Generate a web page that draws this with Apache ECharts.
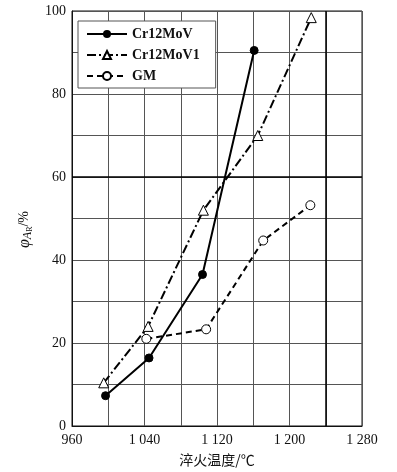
<!DOCTYPE html>
<html>
<head>
<meta charset="utf-8">
<script src="https://cdn.jsdelivr.net/npm/echarts@6/dist/echarts.min.js"></script>
<style>
  html, body { margin: 0; padding: 0; background: #fff; }
  #chart { width: 397px; height: 472px; }
</style>
</head>
<body>
<div id="chart"></div>
<script>
// 淬火温度 (x) / 残余奥氏体 (y) 读图数据
const cr12MoV = [[997, 7.3], [1045, 16.4], [1104, 36.5], [1161, 90.5]]
const cr12MoV1 = [[995, 10.4], [1044, 24.0], [1105, 52.0], [1165, 70.0], [1224, 98.4]]
const gm = [[1042, 21.0], [1108, 23.3], [1171, 44.7], [1223, 53.2]]
const seriesNames = ['Cr12MoV', 'Cr12MoV1', 'GM']
const xMin = 960, xMax = 1280, xStep = 40, xLabelStep = 80
const yMin = 0, yMax = 100, yStep = 10, yLabelStep = 20
const refX = 1240, refY = 60

const serif = '"Liberation Serif", "DejaVu Serif", serif'
const chart = echarts.init(document.getElementById('chart'))

const fmtX = (v) => {
  if ((v - xMin) % xLabelStep !== 0) return ''
  const s = String(v)
  return s.length > 3 ? s.slice(0, s.length - 3) + ' ' + s.slice(-3) : s
}

const option = {
  animation: false,
  grid: {
    left: 72, right: 35, top: 11, bottom: 40,
    show: true, borderColor: '#111', borderWidth: 1
  },
  legend: {
    orient: 'vertical',
    left: 78, top: 21,
    padding: [6, 16, 5, 8],
    itemGap: 7,
    itemWidth: 40, itemHeight: 10,
    backgroundColor: '#fff',
    borderColor: '#555', borderWidth: 1,
    textStyle: { fontFamily: serif, fontSize: 14, fontWeight: 'bold', color: '#111' },
    data: seriesNames
  },
  xAxis: {
    type: 'value',
    min: xMin, max: xMax, interval: xStep,
    name: '淬火温度/℃',
    nameLocation: 'middle',
    nameGap: 27,
    nameTextStyle: { fontFamily: '"Noto Sans CJK SC", sans-serif', fontSize: 14, color: '#111' },
    axisLine: { show: true, lineStyle: { color: '#111', width: 1 } },
    axisTick: { show: false },
    axisLabel: { formatter: fmtX, fontFamily: serif, fontSize: 14, color: '#111', margin: 7, showMaxLabel: true },
    splitLine: { show: true, lineStyle: { color: '#555', width: 1 } }
  },
  yAxis: {
    type: 'value',
    min: yMin, max: yMax, interval: yStep,
    name: '{a|φ}{b|A}{c|R}{d|/%}',
    nameLocation: 'middle',
    nameRotate: 90,
    nameGap: 30,
    nameTextStyle: {
      color: '#111',
      padding: [0, 22, 0, 0],
      rich: {
        a: { fontFamily: serif, fontStyle: 'italic', fontSize: 16, color: '#111' },
        b: { fontFamily: serif, fontStyle: 'italic', fontSize: 12, color: '#111', verticalAlign: 'bottom', padding: [7, 0, 0, 0] },
        c: { fontFamily: serif, fontSize: 8, color: '#111', verticalAlign: 'bottom', padding: [11, 0, 0, 0] },
        d: { fontFamily: serif, fontSize: 14, color: '#111' }
      }
    },
    axisLine: { show: true, lineStyle: { color: '#111', width: 1 } },
    axisTick: { show: false },
    axisLabel: {
      formatter: (v) => ((v - yMin) % yLabelStep === 0 ? String(v) : ''),
      fontFamily: serif, fontSize: 14, color: '#111', margin: 6
    },
    splitLine: { show: true, lineStyle: { color: '#555', width: 1 } }
  },
  series: [
    {
      name: seriesNames[0],
      type: 'line',
      data: cr12MoV,
      symbol: 'circle',
      symbolSize: 8,
      itemStyle: { color: '#000', borderColor: '#000' },
      lineStyle: { color: '#000', width: 2, type: 'solid' },
      z: 4,
      markLine: {
        silent: true,
        symbol: 'none',
        label: { show: false },
        lineStyle: { color: '#000', width: 1.5, type: 'solid' },
        data: [{ xAxis: refX }, { yAxis: refY }]
      }
    },
    {
      name: seriesNames[1],
      type: 'line',
      data: cr12MoV1,
      symbol: 'triangle',
      symbolSize: 10,
      itemStyle: { color: '#fff', borderColor: '#000', borderWidth: 1 },
      lineStyle: { color: '#000', width: 2, type: [9, 3, 2, 3] },
      z: 3
    },
    {
      name: seriesNames[2],
      type: 'line',
      data: gm,
      symbol: 'circle',
      symbolSize: 9,
      itemStyle: { color: '#fff', borderColor: '#000', borderWidth: 1 },
      lineStyle: { color: '#000', width: 2, type: [6, 4] },
      z: 3
    }
  ]
}

chart.setOption(option)
</script>
</body>
</html>
